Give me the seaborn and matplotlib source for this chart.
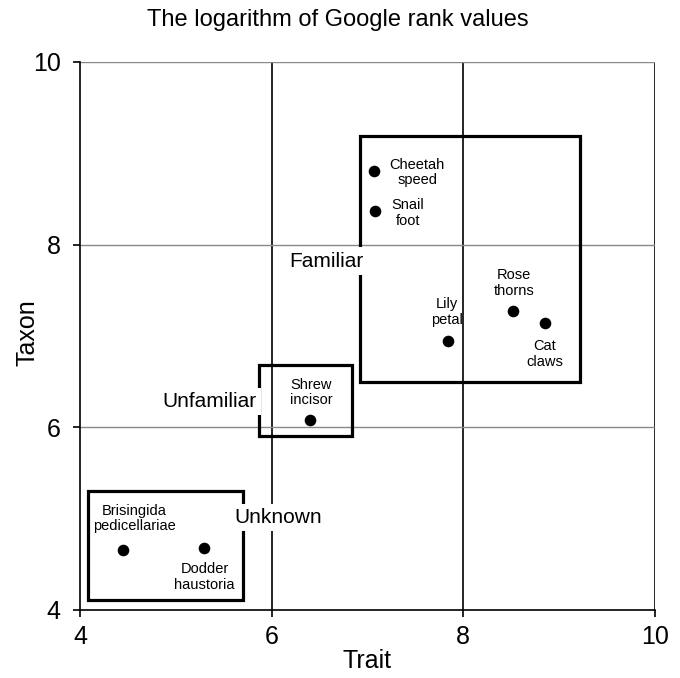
import matplotlib
matplotlib.use("Agg")
import matplotlib.pyplot as plt
import seaborn as sns
import pandas as pd
from matplotlib.patches import Rectangle

# ---- data ----
names = ["Cheetah\nspeed", "Snail\nfoot", "Lily\npetal", "Rose\nthorns", "Cat\nclaws",
         "Shrew\nincisor", "Brisingida\npedicellariae", "Dodder\nhaustoria"]
trait = [7.07, 7.08, 7.84, 8.52, 8.85, 6.40, 4.45, 5.29]
taxon = [8.81, 8.37, 6.95, 7.27, 7.14, 6.08, 4.66, 4.68]
# label anchor points (data coords)
label_x = [7.52, 7.42, 7.83, 8.53, 8.85, 6.41, 4.57, 5.30]
label_y = [8.79, 8.35, 7.26, 7.58, 6.80, 6.38, 5.00, 4.36]

groups = ["Familiar", "Unfamiliar", "Unknown"]
group_x0 = [6.92, 5.87, 4.08]
group_x1 = [9.22, 6.84, 5.70]
group_y0 = [6.50, 5.90, 4.11]
group_y1 = [9.19, 6.68, 5.30]
group_lx = [6.57, 5.35, 6.07]
group_ly = [7.82, 6.28, 5.01]

ticks = [4, 6, 8, 10]

df = pd.DataFrame({"Trait": trait, "Taxon": taxon, "name": names})

sns.set_theme(style="white")
plt.rcParams["font.family"] = ["Liberation Sans", "DejaVu Sans"]
plt.rcParams["text.color"] = "black"
plt.rcParams["axes.labelcolor"] = "black"
plt.rcParams["xtick.color"] = "black"
plt.rcParams["ytick.color"] = "black"

fig = plt.figure(figsize=(6.8, 6.78), dpi=100)
ax = fig.add_axes([0.1176, 0.1003, 0.8456, 0.8083])

# grid lines
for v in ticks[1:]:
    ax.axvline(v, color="black", lw=1.2, zorder=1)
for v in ticks[1:]:
    ax.axhline(v, color="#888888", lw=1.0, zorder=1)

# group boxes
for g, x0, x1, y0, y1, lx, ly in zip(groups, group_x0, group_x1, group_y0, group_y1, group_lx, group_ly):
    ax.add_patch(Rectangle((x0, y0), x1 - x0, y1 - y0, fill=False, ec="black", lw=2.3, zorder=2))
    ax.text(lx, ly, g, ha="center", va="center", fontsize=15, zorder=4,
            bbox=dict(facecolor="white", edgecolor="none", pad=3))

sns.scatterplot(data=df, x="Trait", y="Taxon", ax=ax, color="black", s=70,
                edgecolor="black", linewidth=0, zorder=5)

for n, lx, ly in zip(names, label_x, label_y):
    ax.text(lx, ly, n, ha="center", va="center", fontsize=10.5, linespacing=1.15, zorder=4)

ax.set_xlim(4, 10)
ax.set_ylim(4, 10)
ax.set_xticks(ticks)
ax.set_yticks(ticks)
ax.tick_params(axis="both", labelsize=18, length=5, width=1.2, direction="out",
               bottom=True, left=True, color="black")
ax.tick_params(axis="x", pad=6)
ax.tick_params(axis="y", pad=9)
for s in ["top", "right"]:
    ax.spines[s].set_visible(False)
for s in ["left", "bottom"]:
    ax.spines[s].set_color("black")
    ax.spines[s].set_linewidth(1.2)
ax.set_xlabel("Trait", fontsize=18, labelpad=0)
ax.set_ylabel("Taxon", fontsize=18)
ax.yaxis.set_label_coords(-0.0696, 0.507)
fig.text(338 / 680, 1 - 20 / 678, "The logarithm of Google rank values",
         ha="center", va="center", fontsize=17)

fig.savefig("out.png", dpi=100)
